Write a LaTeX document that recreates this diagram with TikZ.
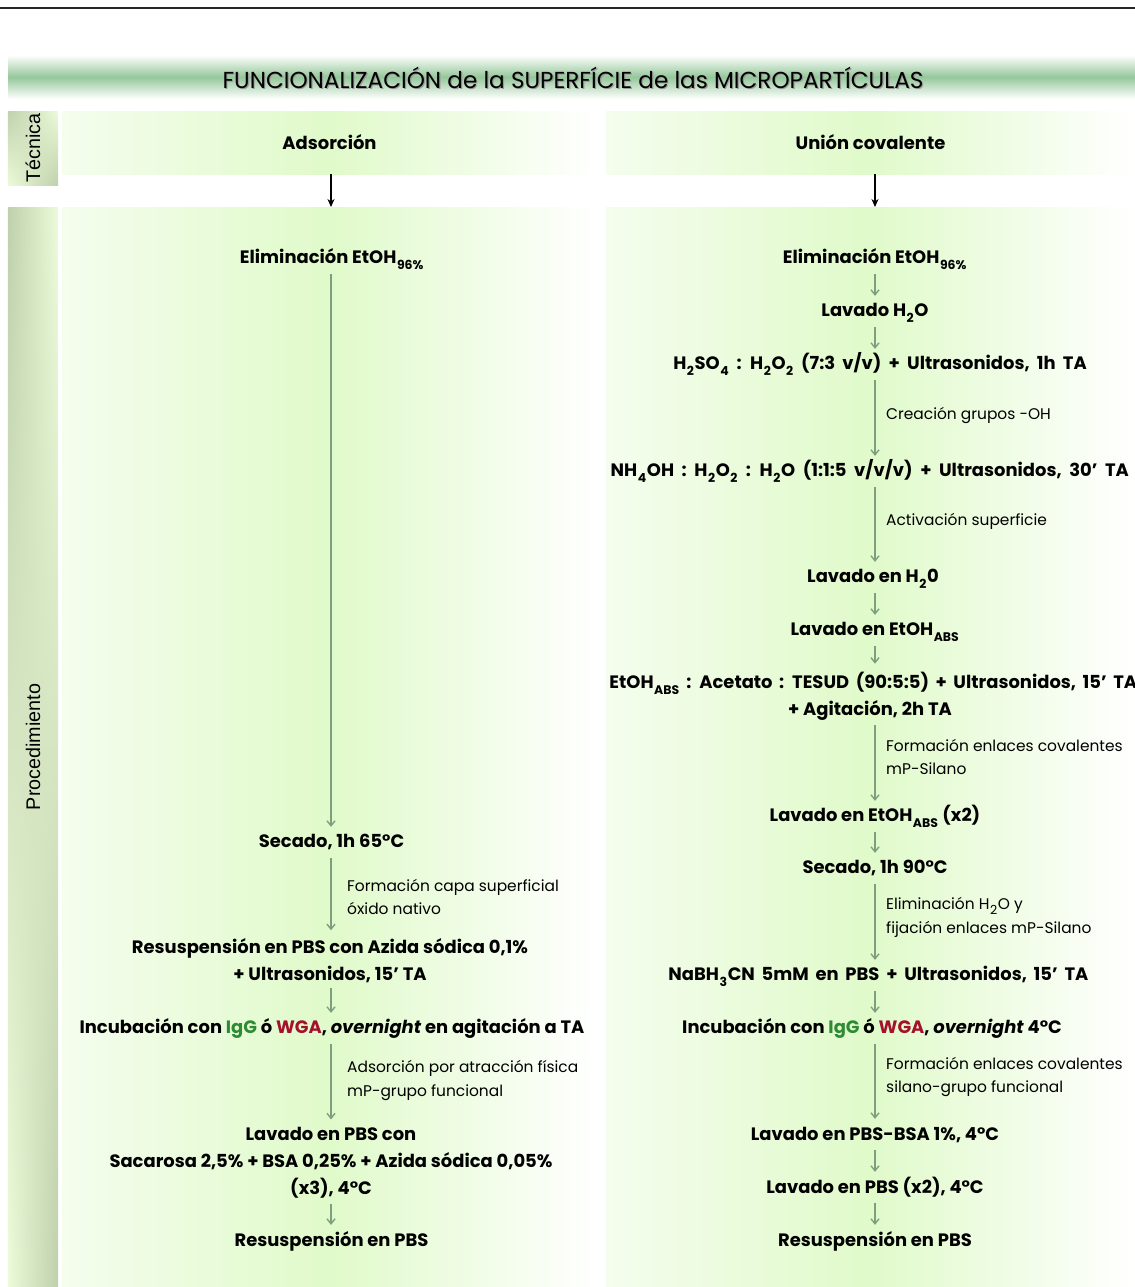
\documentclass[tikz,border=0pt]{standalone}
\usepackage{fontspec}
\setmainfont{Poppins}
\newfontfamily\sidefont{Liberation Sans}
\newfontfamily\headfont{Poppins}
\usetikzlibrary{arrows.meta,shadings}

\definecolor{flowgreen}{HTML}{7D9F80}
\definecolor{panelgreen}{HTML}{E0FACA}
\definecolor{paneledge}{HTML}{F5FDEE}
\definecolor{bandgreen}{HTML}{95C79A}
\definecolor{tabdark}{HTML}{BFD0AC}
\definecolor{tablight}{HTML}{ECFBD9}
\definecolor{iggcol}{HTML}{2E8B34}
\definecolor{wgacol}{HTML}{A3122B}

% lowered, smaller index text (chemical formulas, EtOH grades)
\newcommand\lowsub[1]{\kern0.6pt\relax\raisebox{-0.32em}{\fontsize{12.5}{12}\selectfont #1}\kern0.6pt\relax}
\newcommand\igg{\textcolor{iggcol}{IgG}}
\newcommand\wga{\textcolor{wgacol}{WGA}}
% looser word spacing for the long formula lines
\newcommand\widewords[1][7.2pt]{\spaceskip=#1 plus 1pt\relax}

\tikzset{
  panel/.style={draw=none, inner sep=0pt, outer sep=0pt,
    left color=paneledge, right color=white, middle color=panelgreen},
  sidetab/.style={draw=none, inner sep=0pt, outer sep=0pt,
    upper left=tabdark, upper right=tablight, lower left=tablight, lower right=tabdark},
  sidelabel/.style={rotate=90, font=\sidefont\fontsize{19.8}{22}\selectfont, inner sep=0pt},
  stepnode/.style={font=\bfseries\fontsize{18}{27}\selectfont, align=center,
    inner sep=0pt, text height=13pt, text depth=5pt, yshift=-2bp},
  multistep/.style={font=\bfseries\fontsize{18}{27}\selectfont, align=center, inner sep=0pt},
  note/.style={font=\fontsize{15.5}{24}\selectfont, align=left, anchor=west, inner sep=0pt},
  flow/.style={draw=flowgreen, line width=1.4pt, shorten <=5pt, shorten >=8pt,
    -{Straight Barb[length=5pt,width=8pt]}},
  topflow/.style={draw=black, line width=1.6pt, -{Stealth[length=8pt,width=7pt,inset=2.5pt]}},
}

\begin{document}
\begin{tikzpicture}[x=1bp,y=-1bp]
\useasboundingbox (0,0) rectangle (1135,1287);

% rule and title band
\draw[line width=2pt, black!85] (0,8) -- (1135,8);
\shade[top color=white, bottom color=white, middle color=bandgreen] (8,55) rectangle (1135,99);
\node[font=\headfont\fontsize{23.2}{25}\selectfont, text=black!40, inner sep=0pt] at (574.2,79.2)
  {FUNCIONALIZACIÓN de la SUPERFÍCIE de las MICROPARTÍCULAS};
\node[font=\headfont\fontsize{23.2}{25}\selectfont, inner sep=0pt] (title) at (573,78)
  {FUNCIONALIZACIÓN de la SUPERFÍCIE de las MICROPARTÍCULAS};

% side tabs
\node[sidetab, minimum width=50bp, minimum height=74bp] (tabT) at (33,148) {};
\node[sidelabel] at (tabT) {Técnica};
\node[sidetab, minimum width=50bp, minimum height=1080bp] (tabP) at (33,747) {};
\node[sidelabel] at (tabP) {Procedimiento};

% technique row and procedure panels
\node[panel, minimum width=535bp, minimum height=63bp,
  font=\bfseries\fontsize{18}{20}\selectfont] (tecL) at (329.5,142.5) {Adsorción};
\node[panel, minimum width=529bp, minimum height=63bp,
  font=\bfseries\fontsize{18}{20}\selectfont] (tecR) at (870.5,142.5) {Unión covalente};
\node[panel, minimum width=535bp, minimum height=1080bp] (procL) at (329.5,747) {};
\node[panel, minimum width=529bp, minimum height=1080bp] (procR) at (870.5,747) {};

\coordinate (lc) at (331,0);
\coordinate (rc) at (875,0);

\draw[topflow] (tecL.south -| lc) -- (procL.north -| lc);
\draw[topflow] (tecR.south -| rc) -- (procR.north -| rc);

% ---- adsorption route
\node[stepnode] (l1) at (332,258) {Eliminación EtOH\lowsub{96\%}};
\node[stepnode] (l2) at (331.5,842) {Secado, 1h 65°C};
\node[multistep] (l3) at (330,960.5) {Resuspensión en PBS con Azida sódica 0,1\%\\+ Ultrasonidos, 15’ TA};
\node[stepnode] (l4) at (332,1028) {Incubación con \igg{} ó \wga, \textit{overnight} en agitación a TA};
\node[multistep] (l5) at (331,1163) {Lavado en PBS con\\Sacarosa 2,5\% + BSA 0,25\% + Azida sódica 0,05\%\\(x3), 4°C};
\node[stepnode] (l6) at (331.5,1240) {Resuspensión en PBS};

\node[note] (b1) at (347,897) {Formación capa superficial\\óxido nativo};
\node[note] (b2) at (347,1080.5) {Adsorción por atracción física\\mP-grupo funcional};

\foreach \a/\b in {l1/l2,l2/l3,l3/l4,l4/l5,l5/l6}
  \draw[flow] (\a.south -| lc) -- (\b.north -| lc);

% ---- covalent route
\node[stepnode] (r1) at (875,258) {Eliminación EtOH\lowsub{96\%}};
\node[stepnode] (r2) at (875,311) {Lavado H\lowsub{2}O};
\node[stepnode] (r3) at (880,364) {\widewords H\lowsub{2}SO\lowsub{4} : H\lowsub{2}O\lowsub{2} (7:3 v/v) + Ultrasonidos, 1h TA};
\node[stepnode] (r4) at (866,471) {\widewords[7.6pt] NH\lowsub{4}OH : H\lowsub{2}O\lowsub{2} : H\lowsub{2}O (1:1:5 v/v/v) + Ultrasonidos, 30’ TA};
\node[stepnode] (r5) at (873,577) {Lavado en H\lowsub{2}0};
\node[stepnode] (r6) at (875,630) {Lavado en EtOH\lowsub{ABS}};
\node[multistep] (r7) at (870,696) {\widewords[6.6pt] EtOH\lowsub{ABS} : Acetato : TESUD (90:5:5) + Ultrasonidos, 15’ TA\\+ Agitación, 2h TA};
\node[stepnode] (r8) at (875,816) {Lavado en EtOH\lowsub{ABS} (x2)};
\node[stepnode] (r9) at (875,868) {Secado, 1h 90°C};
\node[stepnode] (r10) at (875,975) {\widewords[6.8pt] NaBH\lowsub{3}CN 5mM en PBS + Ultrasonidos, 15’ TA};
\node[stepnode] (r11) at (872,1028) {Incubación con \igg{} ó \wga, \textit{overnight} 4°C};
\node[stepnode] (r12) at (875,1134) {Lavado en PBS-BSA 1\%, 4°C};
\node[stepnode] (r13) at (875,1187) {Lavado en PBS (x2), 4°C};
\node[stepnode] (r14) at (875,1240) {Resuspensión en PBS};

\node[note] (a1) at (886,415) {Creación grupos -OH};
\node[note] (a2) at (886,521) {Activación superficie};
\node[note] (a3) at (886,757) {Formación enlaces covalentes\\mP-Silano};
\node[note] (a4) at (886,917.5) {Eliminación H\lowsub{2}O y\\fijación enlaces mP-Silano};
\node[note] (a5) at (886,1077) {Formación enlaces covalentes\\silano-grupo funcional};

\foreach \a/\b in {r1/r2,r2/r3,r3/r4,r4/r5,r5/r6,r6/r7,r7/r8,r8/r9,r9/r10,r10/r11,r11/r12,r12/r13,r13/r14}
  \draw[flow] (\a.south -| rc) -- (\b.north -| rc);

\end{tikzpicture}
\end{document}
